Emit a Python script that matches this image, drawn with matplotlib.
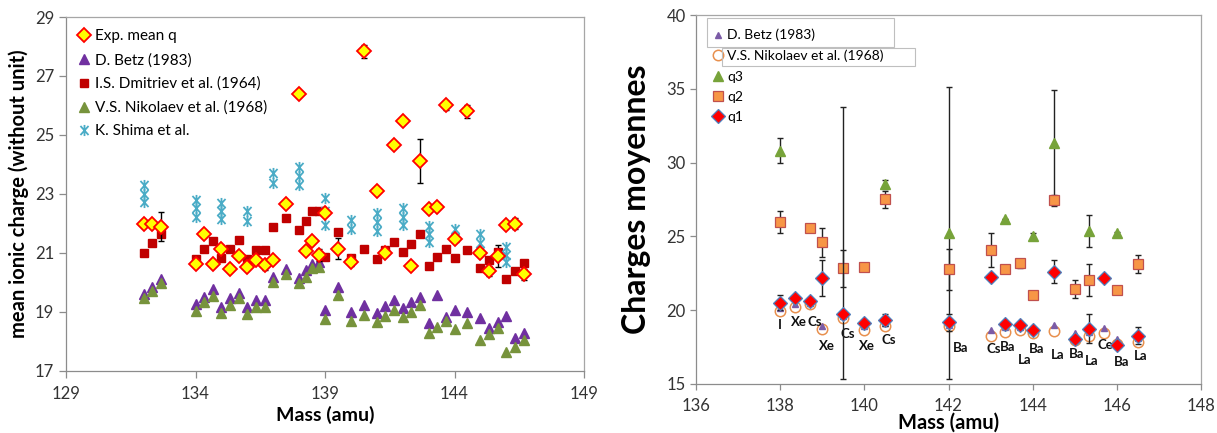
import matplotlib
matplotlib.use('Agg')
import matplotlib.pyplot as plt
from matplotlib.path import Path
from matplotlib.patches import Rectangle

plt.rcParams['font.family'] = ['Lato', 'DejaVu Sans']

# ---------------- Left panel data ----------------
mass_l = [132, 132.33, 132.67, 134, 134.33, 134.67, 135, 135.33, 135.67, 136, 136.33, 136.67,
          137, 137.5, 138, 138.25, 138.5, 138.75, 139, 139.5, 140, 140.5, 141, 141.33, 141.67,
          142, 142.33, 142.67, 143, 143.33, 143.67, 144, 144.5, 145, 145.33, 145.67, 146, 146.33, 146.67]
exp_q = [21.96, 21.96, 21.88, 20.6, 21.62, 20.6, 21.11, 20.43, 20.88, 20.52, 20.75, 20.58,
         20.75, 22.65, 26.4, 21.07, 21.38, 20.93, 22.33, 21.14, 20.69, 27.84, 23.09, 20.98, 24.65,
         25.46, 20.56, 24.11, 22.47, 22.56, 26.0, 21.47, 25.8, 21.0, 20.39, 20.89, 21.93, 21.99, 20.26]
exp_err = [0, 0, 0.49, 0, 0, 0, 0, 0, 0, 0, 0, 0.18,
           0, 0.1, 0, 0, 0, 0.2, 0, 0.36, 0.15, 0.22, 0, 0, 0,
           0, 0, 0.76, 0, 0, 0.16, 0, 0.22, 0, 0.17, 0.37, 0, 0.18, 0.2]
betz_l = [19.59, 19.84, 20.09, 19.25, 19.5, 19.76, 19.16, 19.45, 19.64, 19.14, 19.39, 19.39,
          20.18, 20.44, 20.13, 20.4, 20.6, 20.67, 19.05, 19.82, 18.99, 19.22, 18.94, 19.19, 19.39,
          19.11, 19.33, 19.5, 18.62, 19.56, 18.82, 19.05, 18.99, 18.77, 18.43, 18.66, 18.85, 18.09, 18.28]
dmitriev_l = [21.0, 21.32, 21.65, 20.8, 21.11, 21.4, 20.81, 21.13, 21.44, 20.77, 21.09, 21.09,
              21.86, 22.17, 21.78, 22.09, 22.42, 22.42, 20.86, 21.69, 20.82, 21.11, 20.77, 21.09, 21.37,
              21.03, 21.31, 21.62, 20.56, 20.86, 21.14, 20.81, 21.09, 20.47, 20.75, 21.03, 20.09, 20.39, 20.66]
nikolaev_l = [19.45, 19.71, 19.96, 19.02, 19.31, 19.54, 18.94, 19.22, 19.45, 18.92, 19.16, 19.16,
              20.01, 20.27, 19.96, 20.18, 20.47, 20.5, 18.74, 19.56, 18.68, 18.88, 18.63, 18.85, 19.05,
              18.8, 18.99, 19.22, 18.26, 18.49, 18.69, 18.4, 18.6, 18.03, 18.24, 18.43, 17.64, 17.81, 18.03]
shima_mass = [132, 132, 132, 134, 134, 134, 135, 135, 135, 136, 136, 137, 137, 138, 138, 138,
              139, 139, 139, 140, 140, 141, 141, 141, 142, 142, 142, 143, 143, 143, 144, 144,
              145, 145, 145, 146, 146, 146]
shima_q = [23.3, 23.0, 22.72, 22.8, 22.5, 22.2, 22.7, 22.42, 22.15, 22.4, 22.08, 23.72, 23.35,
           23.9, 23.6, 23.3, 22.87, 22.4, 21.94, 22.12, 21.8, 22.33, 22.03, 21.73, 22.52, 22.22, 21.93,
           21.9, 21.62, 21.35, 21.82, 21.5, 21.62, 21.33, 21.07, 21.2, 20.92, 20.67]
xticks_l = [129, 134, 139, 144, 149]
yticks_l = [17, 19, 21, 23, 25, 27, 29]

# ---------------- Right panel data ----------------
mass_r = [138, 138.35, 138.7, 139, 139.5, 140, 140.5, 142, 143, 143.35, 143.7, 144, 144.5,
          145, 145.35, 145.7, 146, 146.5]
q1 = [20.5, 20.85, 20.64, 22.17, 19.72, 19.13, 19.35, 19.17, 22.24, 19.08, 18.97, 18.68, 22.6,
      18.05, 18.75, 22.15, 17.62, 18.27]
q1_err_lo = [0.5, 0, 0, 1.2, 4.4, 0, 0.4, 0.6, 0, 0, 0, 0, 0.78, 0, 1.0, 0, 0, 0.57]
q1_err_hi = [0.5, 0, 0, 1.2, 14.05, 0, 0.4, 0.6, 0, 0, 0, 0, 0.78, 0, 1.0, 0, 0, 0.57]
betz_r = [20.15, 20.4, 20.5, 18.95, 19.6, 18.95, 19.1, 19.0, 18.68, 18.85, 18.85, 18.6, 19.02,
          18.45, 18.5, 18.79, 18.05, 18.1]
nikolaev_r = [19.96, 20.25, 20.44, 18.75, 19.47, 18.68, 18.9, 18.95, 18.23, 18.5, 18.68, 18.45,
              18.6, 18.0, 18.27, 18.45, 17.7, 17.84]
mass_q2 = [138, 138.7, 139, 139.5, 140, 140.5, 142, 143, 143.35, 143.7, 144, 144.5, 145, 145.35, 146, 146.5]
q2 = [25.95, 25.54, 24.59, 22.85, 22.92, 27.52, 22.78, 24.09, 22.78, 23.19, 21.0, 27.45, 21.43,
      22.06, 21.38, 23.12]
q2_err = [0.75, 0, 1.0, 1.25, 0.28, 0.58, 1.4, 1.15, 0, 0.3, 0.2, 0.37, 0.62, 1.1, 0, 0.63]
mass_q3 = [138, 140.5, 142, 143.35, 144, 144.5, 145.35, 146]
q3 = [30.8, 28.54, 25.24, 26.19, 25.04, 31.31, 25.38, 25.22]
q3_err = [0.85, 0.3, 9.9, 0, 0.2, 3.6, 1.1, 0.1]
elem_labels = ['I', 'Xe', 'Cs', 'Xe', 'Cs', 'Xe', 'Cs', 'Ba', 'Cs', 'Ba', 'La', 'Ba', 'La',
               'Ba', 'La', 'Ce', 'Ba', 'La']
label_x = [138.0, 138.44, 138.81, 139.1, 139.6, 140.06, 140.57, 142.3, 143.07, 143.41, 143.81,
           144.09, 144.6, 145.04, 145.4, 145.72, 146.11, 146.57]
label_y = [19.0, 19.2, 19.17, 17.6, 18.38, 17.6, 17.95, 17.44, 17.37, 17.48, 16.65, 17.37,
           16.99, 17.03, 16.53, 17.62, 16.49, 16.87]
xticks_r = [136, 138, 140, 142, 144, 146, 148]
yticks_r = [15, 20, 25, 30, 35, 40]

W, H = 1217, 433
fig = plt.figure(figsize=(W / 100, H / 100), dpi=100)

def frac_box(l, r, t, b):
    return [l / W, (H - b) / H, (r - l) / W, (b - t) / H]

axL = fig.add_axes(frac_box(66, 584, 17, 370.5))
axR = fig.add_axes(frac_box(696, 1201, 15, 384))

spine_col = '#8C8C8C'
tick_col = '#333333'
for ax in (axL, axR):
    for s in ax.spines.values():
        s.set_color('#A6A6A6')
        s.set_linewidth(0.9)
    ax.spines['left'].set_color(spine_col)
    ax.spines['bottom'].set_color(spine_col)
    ax.tick_params(direction='out', length=5, width=0.9, color=spine_col, labelcolor=tick_col)

# Shima marker: X with a vertical bar
star_path = Path([(-0.8, -0.9), (0.8, 0.9), (-0.8, 0.9), (0.8, -0.9), (0, -1.1), (0, 1.1)],
                 [Path.MOVETO, Path.LINETO, Path.MOVETO, Path.LINETO, Path.MOVETO, Path.LINETO])

# ---- left panel ----
axL.plot(mass_l, betz_l, linestyle='none', marker='^', ms=6.5, color='#7030A0', zorder=3,
         label='D. Betz (1983)')
axL.plot(mass_l, dmitriev_l, linestyle='none', marker='s', ms=5.5, color='#C00000', zorder=3,
         label='I.S. Dmitriev et al. (1964)')
axL.plot(mass_l, nikolaev_l, linestyle='none', marker='^', ms=6.5, color='#77933C', zorder=3.5,
         label='V.S. Nikolaev et al. (1968)')
axL.plot(shima_mass, shima_q, linestyle='none', marker=star_path, ms=8, mfc='none',
         mec='#4BACC6', mew=1.3, zorder=4, label='K. Shima et al.')
axL.errorbar(mass_l, exp_q, yerr=exp_err, fmt='none', ecolor='black', elinewidth=1,
             capsize=2.5, capthick=1, zorder=4.5)
axL.plot(mass_l, exp_q, linestyle='none', marker='D', ms=7.5, mfc='#FFFF00', mec='#FF0000',
         mew=1.3, zorder=5, label='Exp. mean q')

axL.set_xlim(129, 149)
axL.set_ylim(17, 29)
axL.set_xticks(xticks_l)
axL.set_yticks(yticks_l)
axL.tick_params(labelsize=12)
axL.tick_params(axis='x', pad=6)
axL.set_xlabel('Mass (amu)', fontsize=14, fontweight='bold', labelpad=3)
axL.set_ylabel('mean ionic charge (without unit)', fontsize=14.5, fontweight='bold', labelpad=4)

hL, lL = axL.get_legend_handles_labels()
order = ['Exp. mean q', 'D. Betz (1983)', 'I.S. Dmitriev et al. (1964)',
         'V.S. Nikolaev et al. (1968)', 'K. Shima et al.']
hmap = dict(zip(lL, hL))
axL.legend([hmap[k] for k in order], order, loc='upper left', frameon=False, fontsize=11,
           handlelength=0.9, handletextpad=0.3, labelspacing=0.62, borderaxespad=0.3,
           bbox_to_anchor=(0.0, 0.995))

# ---- right panel ----
axR.plot(mass_r, nikolaev_r, linestyle='none', marker='o', ms=7.5, mfc='none', mec='#E8904E',
         mew=1.1, zorder=3, label='V.S. Nikolaev et al. (1968)')
axR.plot(mass_r, betz_r, linestyle='none', marker='^', ms=5, color='#7B5BA6', zorder=3.2,
         label='D. Betz (1983)')
axR.errorbar(mass_q3, q3, yerr=q3_err, fmt='none', ecolor='#222222', elinewidth=1,
             capsize=2.5, capthick=1, zorder=3.4)
axR.plot(mass_q3, q3, linestyle='none', marker='^', ms=7.5, color='#77A33A', zorder=3.5,
         label='q3')
axR.errorbar(mass_q2, q2, yerr=q2_err, fmt='none', ecolor='#222222', elinewidth=1,
             capsize=2.5, capthick=1, zorder=3.6)
axR.plot(mass_q2, q2, linestyle='none', marker='s', ms=6.5, mfc='#F79646', mec='#C0504D',
         mew=0.9, zorder=3.7, label='q2')
axR.errorbar(mass_r, q1, yerr=[q1_err_lo, q1_err_hi], fmt='none', ecolor='#222222',
             elinewidth=1, capsize=2.5, capthick=1, zorder=3.8)
axR.plot(mass_r, q1, linestyle='none', marker='D', ms=7, mfc='#FF0000', mec='#4F81BD',
         mew=0.9, zorder=4, label='q1')

for t, x, y in zip(elem_labels, label_x, label_y):
    axR.text(x, y, t, ha='center', va='center', fontsize=9.5, fontweight='bold', color='#111111')

axR.set_xlim(136, 148)
axR.set_ylim(15, 40)
axR.set_xticks(xticks_r)
axR.set_yticks(yticks_r)
axR.tick_params(labelsize=12, length=4)
axR.tick_params(axis='x', pad=6)
axR.set_xlabel('Mass (amu)', fontsize=14.5, fontweight='bold', labelpad=-1)
axR.set_ylabel('Charges moyennes', fontsize=23, fontweight='bold', labelpad=11)

hR, lR = axR.get_legend_handles_labels()
orderR = ['D. Betz (1983)', 'V.S. Nikolaev et al. (1968)', 'q3', 'q2', 'q1']
hmapR = dict(zip(lR, hR))
axR.legend([hmapR[k] for k in orderR], orderR, loc='upper left', frameon=False, fontsize=10,
           handlelength=0.7, handletextpad=0.3, labelspacing=0.6, borderaxespad=0.2,
           bbox_to_anchor=(0.018, 0.985))

# legend box outlines (as in the source figure)
for (l, r, t, b) in [(706.7, 894, 18.3, 46.7), (721.7, 915.3, 47.7, 65.7)]:
    fig.patches.append(Rectangle(((l) / W, (H - b) / H), (r - l) / W, (b - t) / H,
                                 transform=fig.transFigure, fill=False, edgecolor='#BFBFBF',
                                 linewidth=0.8, zorder=10))

fig.savefig('out.png', dpi=100)
